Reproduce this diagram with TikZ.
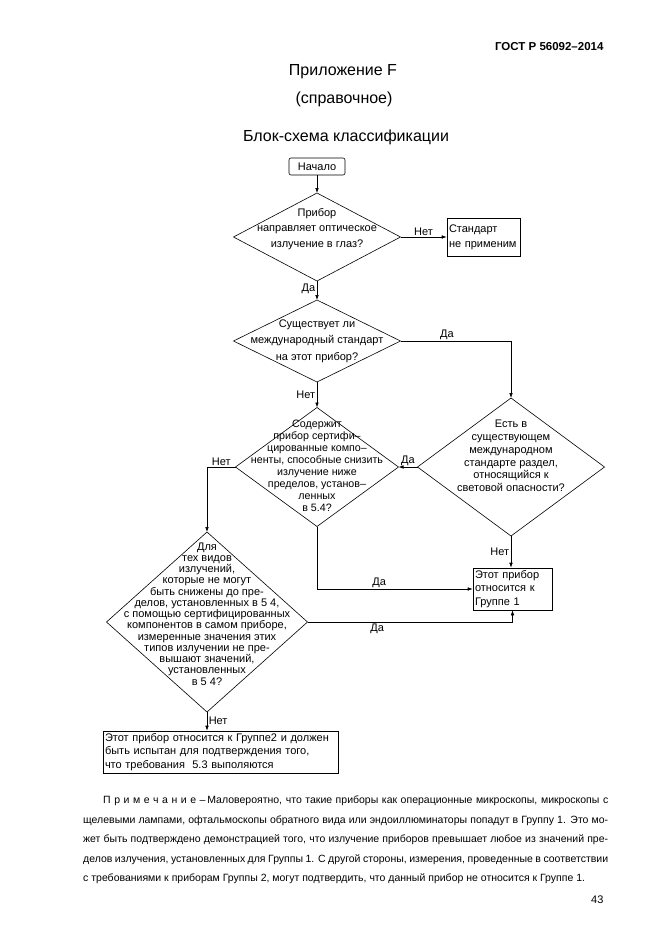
\documentclass[tikz,border=0pt]{standalone}
\usepackage{fontspec}
\setmainfont{Liberation Sans}
\usetikzlibrary{shapes.geometric,arrows.meta}

\tikzset{
  dec/.style={draw, diamond, inner sep=0pt, outer sep=0pt, line width=0.6pt},
  dtext/.style={align=center, inner sep=0pt, font=\fontsize{11}{#1}\selectfont},
  term/.style={draw, rectangle, rounded corners=2pt, line width=0.6pt,
    minimum width=56pt, minimum height=17pt, inner sep=0pt, font=\fontsize{11}{13}\selectfont},
  blockbox/.style={draw, rectangle, line width=0.6pt, inner xsep=2pt, inner ysep=0pt,
    align=left, font=\fontsize{11}{13.5}\selectfont},
  arr/.style={-{Latex[length=5pt,width=3.6pt]}, line width=0.6pt},
  lbl/.style={font=\fontsize{11}{13}\selectfont, inner sep=1.5pt}
}

\begin{document}
\begin{tikzpicture}[x=1pt,y=-1pt]
  \useasboundingbox (0,0) rectangle (661,935);

  % Page header
  \node[anchor=base east, font=\bfseries\fontsize{11.5}{13}\selectfont] (gost) at (607,50) {ГОСТ Р 56092–2014};
  \node[font=\fontsize{16}{18}\selectfont] (annex) at (343,72) {Приложение F};
  \node[font=\fontsize{16}{18}\selectfont] (annexkind) at (344,99) {(справочное)};
  \node[font=\fontsize{16}{18}\selectfont] (title) at (346,137) {Блок-схема классификации};

  % Blocks of the scheme
  \node[term] (start) at (317,166.5) {Начало};
  \node[dec, minimum width=167pt, minimum height=88pt,
    label={[dtext=15.5pt, yshift=8pt]center:{Прибор\\направляет оптическое\\излучение в глаз?}}] (d1) at (317,237) {};
  \node[blockbox, text width=69pt, minimum height=38pt, font=\fontsize{11}{15}\selectfont] (nostd) at (483.5,237) {Стандарт\\не применим};
  \node[dec, minimum width=167pt, minimum height=82pt,
    label={[dtext=16.5pt]center:{Существует ли\\международный стандарт\\на этот прибор?}}] (d2) at (317,341) {};
  \node[dec, minimum width=163pt, minimum height=119pt,
    label={[dtext=12pt, yshift=1pt, font=\fontsize{10.7}{12}\selectfont]center:{Содержит\\прибор сертифи–\\цированные компо–\\ненты, способные снизить\\излучение ниже\\пределов, установ–\\ленных\\в 5.4?}}] (d3) at (317,467) {};
  \node[dec, minimum width=187pt, minimum height=138pt,
    label={[dtext=12.8pt, yshift=11pt]center:{Есть в\\существующем\\международном\\стандарте раздел,\\относящийся к\\световой опасности?}}] (d4) at (511,467) {};
  \node[dec, minimum width=201pt, minimum height=180pt,
    label={[dtext=11.25pt, yshift=8pt]center:{Для\\тех видов\\излучений,\\которые не могут\\быть снижены до пре-\\делов, установленных в 5 4,\\с помощью сертифицированных\\компонентов в самом приборе,\\измеренные значения этих\\типов излучении не пре-\\вышают значений,\\установленных\\в 5 4?}}] (d5) at (207,622) {};
  \node[blockbox, text width=75pt, minimum height=42pt] (grp1) at (512.5,589) {Этот прибор\\относится к\\Группе 1};
  \node[blockbox, text width=231pt, minimum height=42pt] (grp2) at (220.5,752) {Этот прибор относится к Группе2 и должен\\быть испытан для подтверждения того,\\что требования\ \ 5.3 выполяются};

  % Connectors
  \draw[arr] (start) -- (d1);
  \draw[arr] (d1) -- node[lbl, above] {Нет} (nostd);
  \draw[arr] (d1) -- node[lbl, left, pos=0.4] {Да} (d2);
  \draw[arr] (d2.east) -| node[lbl, above, pos=0.21] {Да} (d4.north);
  \draw[arr] (d2) -- node[lbl, left] {Нет} (d3);
  \draw[arr] (d4) -- node[lbl, above] {Да} (d3);
  \draw[arr] (d3.west) -| node[lbl, above, pos=0.25] {Нет} (d5.north);
  \draw[arr] (d3.south) |- node[lbl, above, pos=0.7] {Да} (grp1.west);
  \draw[arr] (d4.south) -- node[lbl, left] {Нет} (d4.south |- grp1.north);
  \draw[arr] (d5.east) -| node[lbl, below, pos=0.17] {Да} (grp1.south);
  \draw[arr] (d5.south) -- node[lbl, right, pos=0.45] {Нет} (d5.south |- grp2.north);

  % Note below the scheme
  \node[anchor=north west, inner sep=0pt, align=left, font=\fontsize{10.5}{19.5}\selectfont] (note) at (83,796) {%
    \makebox[525pt][s]{\hspace*{20pt}П р и м е ч а н и е~–\,Маловероятно, что такие приборы как операционные микроскопы, микроскопы с}\\
    \makebox[525pt][s]{щелевыми лампами, офтальмоскопы обратного вида или эндоиллюминаторы попадут в Группу 1. Это мо-}\\
    \makebox[525pt][s]{жет быть подтверждено демонстрацией того, что излучение приборов превышает любое из значений пре-}\\
    \makebox[525pt][s]{делов излучения, установленных для Группы 1. С другой стороны, измерения, проведенные в соответствии}\\
    с требованиями к приборам Группы 2, могут подтвердить, что данный прибор не относится к Группе 1.};
  \node[anchor=base east, font=\fontsize{11}{13}\selectfont] (pagenum) at (607,903) {43};
\end{tikzpicture}
\end{document}
